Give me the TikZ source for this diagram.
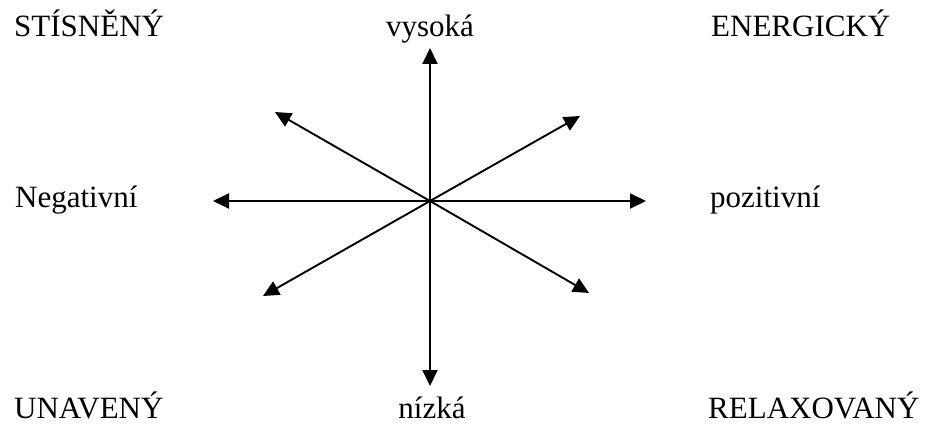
\documentclass[tikz,border=0pt]{standalone}
\usepackage{fontspec}
\setmainfont{Liberation Serif}
\usetikzlibrary{arrows.meta}

\begin{document}
\begin{tikzpicture}[
    x=1pt, y=-1pt,
    every node/.style={inner sep=0pt,font=\fontsize{31}{37}\selectfont},
    lbl/.style={anchor=base west},
    mid/.style={anchor=base},
    axis/.style={draw,line width=1.9pt,-{Triangle[length=16pt,width=15pt]}}
]
\useasboundingbox (0,0) rectangle (934,428);
% corners and axis labels
\node[lbl] (stis) at (14,37) {STÍSNĚNÝ};
\node[mid] (vys) at (430,37) {vysoká};
\node[lbl] (ener) at (711,37) {ENERGICKÝ};
\node[lbl] (neg) at (15,207) {Negativní};
\node[lbl] (poz) at (710,207) {pozitivní};
\node[lbl] (unav) at (14,418) {UNAVENÝ};
\node[mid] (niz) at (432,418) {nízká};
\node[lbl] (relax) at (708,418) {RELAXOVANÝ};
% arrows
\coordinate (c) at (430,201);
\coordinate (up) at (430,48);
\coordinate (dn) at (430,386);
\coordinate (lt) at (213,201);
\coordinate (rt) at (646,201);
\coordinate (ul) at (275,112);
\coordinate (ur) at (580,116);
\coordinate (ll) at (263,296);
\coordinate (lr) at (589,293);
\foreach \t in {up,dn,lt,rt,ul,ur,ll,lr}
    \draw[axis] (c) -- (\t);
\end{tikzpicture}
\end{document}
